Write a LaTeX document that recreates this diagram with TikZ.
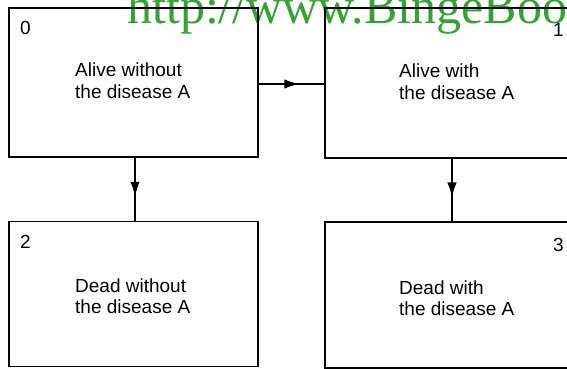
\documentclass[tikz,border=0pt]{standalone}
\usepackage{fontspec}
\setmainfont{Liberation Sans}
\newfontfamily\wmfont{Liberation Serif}
\usetikzlibrary{arrows.meta,decorations.markings}
\definecolor{wmgreen}{RGB}{58,158,58}
\tikzset{
  statebox/.style={draw=black, line width=1.7pt, rectangle, inner sep=0pt,
    minimum width=249pt, minimum height=149pt},
  boxtext/.style={align=left, inner sep=0pt, anchor=base west,
    font=\fontsize{19}{21}\selectfont},
  numtext/.style={inner sep=0pt, anchor=base west,
    font=\fontsize{19}{21}\selectfont},
  flow/.style={line width=1.7pt, postaction={decorate}, decoration={markings,
    mark=at position 0.62 with {\arrow{Latex[length=15pt,width=9.5pt]}}}}
}
\begin{document}
\begin{tikzpicture}[x=1pt,y=-1pt]
\clip (0,0) rectangle (567,369);
\node[inner sep=0pt, anchor=base west, text=wmgreen,
  font=\wmfont\fontsize{50}{50}\selectfont] (wm) at (127,24) {http://www.BingeBook};
\node[statebox, minimum height=149pt] (b0) at (133.5,82.5) {};
\node[statebox, minimum height=150pt] (b1) at (449.5,83) {};
\node[statebox, minimum height=145pt] (b2) at (133.5,294) {};
\node[statebox, minimum height=146pt] (b3) at (449.5,295) {};
\node[numtext] (n0) at (20,35) {0};
\node[numtext] (n1) at (553,37) {1};
\node[numtext] (n2) at (20,248) {2};
\node[numtext] (n3) at (553,251) {3};
\node[boxtext] (t0) at (75,98) {Alive without\\the disease A};
\node[boxtext] (t1) at (399,99) {Alive with\\the disease A};
\node[boxtext] (t2) at (75,313) {Dead without\\the disease A};
\node[boxtext] (t3) at (399,315) {Dead with\\the disease A};
\draw[flow] ([yshift=-1.5pt]b0.east) -- ([yshift=-1.5pt]b0.east -| b1.west);
\draw[flow] ([xshift=1.5pt]b0.south) -- ([xshift=1.5pt]b0.south |- b2.north);
\draw[flow] ([xshift=2.5pt]b1.south) -- ([xshift=2.5pt]b1.south |- b3.north);
\end{tikzpicture}
\end{document}
